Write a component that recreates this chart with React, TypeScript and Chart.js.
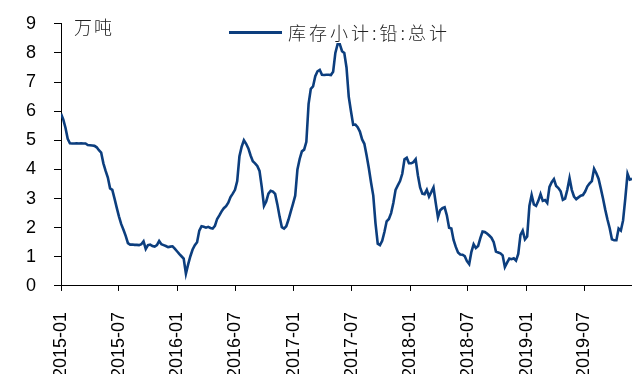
import React, { useEffect, useRef } from "react";
import { Chart, registerables } from "chart.js";

Chart.register(...registerables);

// Weekly series, first observation in the first week of 2015-01
const startDate = "2015-01-01";
const tickLabels = [
  "2015-01", "2015-07", "2016-01", "2016-07", "2017-01",
  "2017-07", "2018-01", "2018-07", "2019-01", "2019-07",
];
const seriesName = "库存小计:铅:总计";
const unitLabel = "万吨";
const yTicks = [0, 1, 2, 3, 4, 5, 6, 7, 8, 9];

// 万吨, weekly
const stock = [
  5.91, 5.72, 5.43, 5.05, 4.9, 4.89, 4.89, 4.9, 4.89, 4.9,
  4.89, 4.89, 4.84, 4.83, 4.82, 4.81, 4.76, 4.66, 4.58, 4.21,
  3.95, 3.72, 3.35, 3.3, 3.0, 2.68, 2.38, 2.12, 1.93, 1.72,
  1.47, 1.42, 1.42, 1.41, 1.41, 1.4, 1.43, 1.53, 1.27, 1.4,
  1.42, 1.37, 1.35, 1.4, 1.54, 1.43, 1.4, 1.37, 1.33, 1.35,
  1.36, 1.28, 1.19, 1.1, 1.02, 0.94, 0.42, 0.74, 1.02, 1.25,
  1.4, 1.5, 1.9, 2.05, 2.03, 2.0, 2.03, 1.99, 1.97, 2.06,
  2.3, 2.42, 2.56, 2.67, 2.74, 2.86, 3.05, 3.17, 3.3, 3.6,
  4.45, 4.78, 5.0, 4.88, 4.72, 4.48, 4.28, 4.21, 4.12, 3.95,
  3.4, 2.75, 2.9, 3.17, 3.27, 3.24, 3.16, 2.8, 2.38, 2.02,
  1.97, 2.05, 2.28, 2.55, 2.82, 3.1, 4.0, 4.36, 4.62, 4.68,
  4.95, 6.25, 6.77, 6.85, 7.2, 7.37, 7.42, 7.25, 7.24, 7.25,
  7.25, 7.24, 7.35, 8.0, 8.3, 8.3, 8.06, 8.0, 7.5, 6.5,
  6.0, 5.53, 5.54, 5.45, 5.3, 5.03, 4.88, 4.49, 4.05, 3.55,
  3.1, 2.15, 1.45, 1.4, 1.55, 1.85, 2.22, 2.3, 2.5, 2.85,
  3.3, 3.45, 3.6, 3.85, 4.35, 4.4, 4.21, 4.21, 4.25, 4.35,
  3.8, 3.38, 3.17, 3.15, 3.3, 3.07, 3.22, 3.38, 2.85, 2.35,
  2.6, 2.67, 2.7, 2.42, 2.0, 1.97, 1.58, 1.34, 1.15, 1.08,
  1.07, 1.02, 0.85, 0.75, 1.17, 1.43, 1.3, 1.37, 1.64, 1.87,
  1.85, 1.8, 1.73, 1.65, 1.5, 1.18, 1.15, 1.12, 1.05, 0.65,
  0.8, 0.94, 0.92, 0.95, 0.87, 1.1, 1.75, 1.9, 1.6, 1.7,
  2.75, 3.12, 2.8, 2.75, 2.92, 3.15, 2.92, 2.95, 2.85, 3.4,
  3.56, 3.67, 3.43, 3.36, 3.25, 2.96, 3.0, 3.3, 3.7, 3.3,
  3.07, 2.98, 3.04, 3.1, 3.12, 3.24, 3.42, 3.52, 3.6, 4.02,
  3.87, 3.68, 3.35, 3.0, 2.62, 2.28, 1.98, 1.6, 1.57, 1.57,
  1.97, 1.9, 2.25, 3.01, 3.85, 3.65, 3.68,
];

const LINE_COLOR = "#0c3e7e";
const WEEK_MS = 7 * 86400000;

function weeksFromStart(label: string): number {
  const [y, m] = label.split("-").map(Number);
  const s = new Date(startDate + "T00:00:00Z").getTime();
  return (Date.UTC(y, m - 1, 1) - s) / WEEK_MS;
}

export default function App() {
  const canvasRef = useRef<HTMLCanvasElement | null>(null);

  useEffect(() => {
    const canvas = canvasRef.current;
    if (!canvas) return;
    const tickValues = tickLabels.map(weeksFromStart);
    const chart = new Chart(canvas, {
      type: "line",
      data: {
        datasets: [
          {
            label: seriesName,
            data: stock.map((v, i) => ({ x: i, y: v })),
            borderColor: LINE_COLOR,
            borderWidth: 2.6,
            pointRadius: 0,
            tension: 0,
            fill: false,
          },
        ],
      },
      options: {
        animation: false,
        responsive: true,
        maintainAspectRatio: false,
        layout: { padding: { left: 8, top: 8, right: 0, bottom: 0 } },
        plugins: {
          legend: { display: false },
          tooltip: { enabled: false },
        },
        scales: {
          x: {
            type: "linear",
            min: 0,
            max: stock.length - 1,
            afterBuildTicks: (scale: any) => {
              scale.ticks = tickValues.map((v) => ({ value: v }));
            },
            grid: {
              display: true,
              drawOnChartArea: false,
              drawTicks: true,
              tickLength: 5,
              color: "#000",
            },
            border: { display: true, color: "#000", width: 1 },
            ticks: {
              autoSkip: false,
              minRotation: 90,
              maxRotation: 90,
              padding: 21,
              color: "#000",
              font: { family: "'Liberation Sans', Arial, sans-serif", size: 18 },
              callback: (_v: any, i: number) => tickLabels[i],
            },
          },
          y: {
            type: "linear",
            min: 0,
            max: 9,
            afterBuildTicks: (scale: any) => {
              scale.ticks = yTicks.map((v) => ({ value: v }));
            },
            grid: {
              display: true,
              drawOnChartArea: false,
              drawTicks: true,
              tickLength: 7,
              color: "#000",
            },
            border: { display: true, color: "#000", width: 1 },
            ticks: {
              padding: 18,
              color: "#000",
              font: { family: "'Liberation Sans', Arial, sans-serif", size: 18 },
              callback: (v: any) => String(v),
            },
          },
        },
      },
    });
    return () => chart.destroy();
  }, []);

  const cjkFont = "'Noto Sans CJK SC', sans-serif";

  return (
    <div
      style={{
        position: "fixed",
        left: 0,
        top: 0,
        width: 632,
        height: 374,
        background: "#fff",
        overflow: "hidden",
      }}
    >
      <div style={{ position: "absolute", left: 0, top: -5, width: 632, height: 404 }}>
        <canvas ref={canvasRef} />
      </div>
      <div
        style={{
          position: "absolute",
          left: 74,
          top: 15,
          fontFamily: cjkFont,
          fontSize: 18,
          lineHeight: "22px",
          letterSpacing: 2,
          color: "#222",
          fontWeight: 300,
          whiteSpace: "nowrap",
        }}
      >
        {unitLabel}
      </div>
      <div
        style={{
          position: "absolute",
          left: 229,
          top: 31,
          width: 53,
          height: 3,
          background: LINE_COLOR,
        }}
      />
      <div
        style={{
          position: "absolute",
          left: 288,
          top: 21,
          fontFamily: cjkFont,
          fontSize: 18,
          lineHeight: "22px",
          letterSpacing: 3,
          color: "#222",
          fontWeight: 300,
          whiteSpace: "nowrap",
        }}
      >
        {seriesName}
      </div>
    </div>
  );
}
